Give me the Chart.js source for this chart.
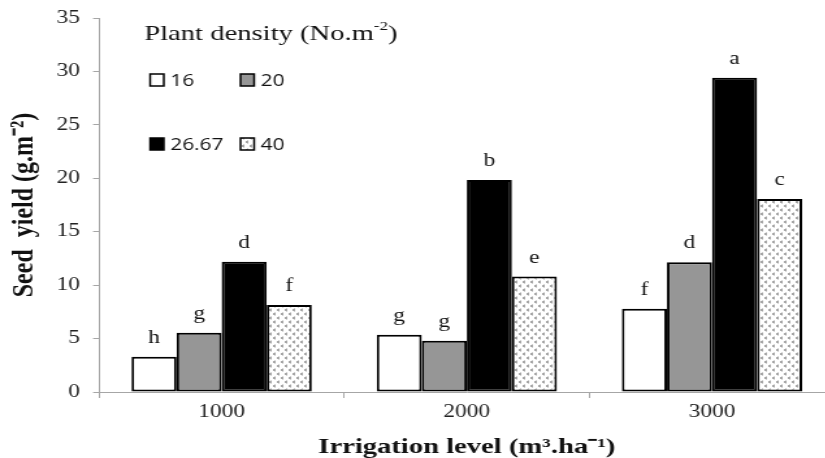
<!DOCTYPE html>
<html lang="en">
<head>
    <meta charset="UTF-8">
    <title>Seed yield by irrigation level</title>
    <script src="https://cdn.jsdelivr.net/npm/chart.js"></script>
    <style>
        html, body {
            margin: 0;
            padding: 0;
            background: #fff;
            overflow: hidden;
        }
        /* the original figure is stretched sideways, so the whole chart is too */
        #wrap {
            width: 642px;
            height: 458px;
            transform: scaleX(1.3);
            transform-origin: 0 0;
        }
    </style>
</head>
<body>
    <div id="wrap"><canvas id="yieldChart"></canvas></div>

    <script>
// data
const irrigationLevels = ['1000', '2000', '3000'];
const densityLabels = ['16', '20', '26.67', '40'];
const yield16 = [3.3, 5.35, 7.8];
const yield20 = [5.55, 4.8, 12.15];
const yield2667 = [12.2, 19.85, 29.4];
const yield40 = [8.15, 10.8, 18.05];
const letters16 = ['h', 'g', 'f'];
const letters20 = ['g', 'g', 'd'];
const letters2667 = ['d', 'b', 'a'];
const letters40 = ['f', 'e', 'c'];
const yTicks = [0, 5, 10, 15, 20, 25, 30, 35];

const serif = '"Liberation Serif", "Times New Roman", serif';
const sans = '"Open Sans", "DejaVu Sans", sans-serif';

// dotted fill for the 40 plants series
function makeDotPattern() {
    const c = document.createElement('canvas');
    c.width = 6;
    c.height = 8;
    const g = c.getContext('2d');
    g.fillStyle = '#fff';
    g.fillRect(0, 0, 6, 8);
    g.strokeStyle = '#222';
    g.lineWidth = 0.9;
    const mark = (x, y) => {
        g.beginPath();
        g.moveTo(x + 1.2, y);
        g.lineTo(x, y + 1);
        g.lineTo(x + 1.2, y + 2);
        g.stroke();
    };
    mark(0.5, 1);
    mark(3.5, 5);
    return g.createPattern(c, 'repeat');
}
const dots = makeDotPattern();

const letterSets = [letters16, letters20, letters2667, letters40];

const letterPlugin = {
    id: 'letters',
    afterDatasetsDraw(chart) {
        const ctx = chart.ctx;
        ctx.save();
        ctx.font = '18px ' + serif;
        ctx.fillStyle = '#111';
        ctx.textAlign = 'center';
        ctx.textBaseline = 'alphabetic';
        chart.data.datasets.forEach((ds, i) => {
            chart.getDatasetMeta(i).data.forEach((bar, j) => {
                ctx.fillText(letterSets[i][j], bar.x, bar.y - 14);
            });
        });
        ctx.restore();
    }
};

// legend drawn inside the plot area, like the original
const legendPlugin = {
    id: 'insideLegend',
    afterDraw(chart) {
        const ctx = chart.ctx;
        ctx.save();
        ctx.fillStyle = '#111';
        ctx.textBaseline = 'middle';
        ctx.font = '22px ' + serif;
        let x = 111;
        const t1 = 'Plant density (No.m';
        ctx.fillText(t1, x, 34);
        x += ctx.measureText(t1).width;
        ctx.font = '13px ' + serif;
        ctx.fillText('-2', x, 27);
        x += ctx.measureText('-2').width;
        ctx.font = '22px ' + serif;
        ctx.fillText(')', x, 34);

        const spots = [[115.5, 80], [185, 80], [115.5, 144], [185, 144]];
        ctx.font = '16px ' + sans;
        chart.data.datasets.forEach((ds, i) => {
            const [bx, cy] = spots[i];
            ctx.fillStyle = ds.backgroundColor;
            ctx.fillRect(bx, cy - 6, 10.5, 12);
            ctx.strokeStyle = '#000';
            ctx.lineWidth = 1.5;
            ctx.strokeRect(bx, cy - 6, 10.5, 12);
            ctx.fillStyle = '#111';
            ctx.fillText(ds.label, bx + 15.5, cy + 1);
        });
        ctx.restore();
    }
};

function barSet(label, values, fill) {
    return {
        label: label,
        data: values,
        backgroundColor: fill,
        borderColor: '#000',
        borderWidth: 2,
        borderSkipped: false,
        categoryPercentage: 0.735,
        barPercentage: 1.0
    };
}

new Chart(document.getElementById('yieldChart'), {
    type: 'bar',
    data: {
        labels: irrigationLevels,
        datasets: [
            barSet(densityLabels[0], yield16, '#ffffff'),
            barSet(densityLabels[1], yield20, '#969696'),
            barSet(densityLabels[2], yield2667, '#000000'),
            barSet(densityLabels[3], yield40, dots)
        ]
    },
    options: {
        responsive: true,
        maintainAspectRatio: false,
        animation: false,
        devicePixelRatio: 1,
        layout: { padding: { top: 18, right: 0, left: 0, bottom: 0 } },
        plugins: {
            legend: { display: false },
            tooltip: { enabled: false }
        },
        scales: {
            x: {
                grid: {
                    display: true,
                    drawOnChartArea: false,
                    offset: true,
                    tickLength: 6,
                    color: '#a6a6a6'
                },
                border: { color: '#a6a6a6', width: 1 },
                ticks: {
                    font: { family: serif, size: 18 },
                    color: '#222',
                    padding: 3
                },
                title: {
                    display: true,
                    text: 'Irrigation level (m³.ha⁻¹)',
                    font: { family: serif, size: 22, weight: 'bold', lineHeight: 1 },
                    color: '#111',
                    padding: { top: 0, bottom: 0 }
                },
                afterFit(scale) { scale.height = 66; }
            },
            y: {
                min: 0,
                max: 35,
                afterBuildTicks(scale) {
                    scale.ticks = yTicks.map(v => ({ value: v }));
                },
                grid: {
                    display: true,
                    drawOnChartArea: false,
                    tickLength: 4.6,
                    color: '#a6a6a6'
                },
                border: { color: '#a6a6a6', width: 1 },
                ticks: {
                    font: { family: serif, size: 18, lineHeight: 0.8 },
                    color: '#222',
                    padding: 10
                },
                title: {
                    display: true,
                    text: 'Seed  yield (g.m⁻²)',
                    font: { family: serif, size: 24, weight: 'bold', lineHeight: 1 },
                    color: '#111',
                    padding: { top: 7, bottom: 0 }
                },
                afterFit(scale) { scale.width = 76.2; }
            }
        }
    },
    plugins: [letterPlugin, legendPlugin]
});
    </script>
</body>
</html>
